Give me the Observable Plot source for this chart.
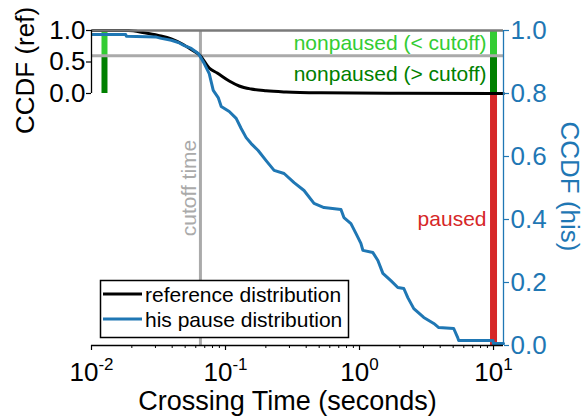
<!DOCTYPE html>
<html>
<head>
<meta charset="utf-8">
<script src="https://cdn.jsdelivr.net/npm/d3@7"></script>
<script src="https://cdn.jsdelivr.net/npm/@observablehq/plot@0.6"></script>
<style>
  html, body { margin: 0; padding: 0; background: #fff; }
  #chart svg { display: block; }
</style>
</head>
<body>
<div id="chart"></div>
<script>
const FONT = "'Liberation Sans', Arial, Helvetica, sans-serif";
const BLUE = "#1f77b4";
const RED = "#d62728";
const LIGHT_GREEN = "#33cc33";
const DARK_GREEN = "#008000";
const GRAY = "#aaaaaa";

// CCDF of his pause crossing times (seconds), right axis
const hisTime = [0.0102, 0.0180, 0.0182, 0.0305, 0.0332, 0.0394, 0.0445, 0.0493, 0.0555, 0.0626,
  0.0649, 0.0694, 0.0756, 0.0810, 0.0882, 0.0929, 0.1066, 0.1201, 0.1309, 0.1426,
  0.1554, 0.1752, 0.2009, 0.2305, 0.2736, 0.3248, 0.3855, 0.4575, 0.5430, 0.7271,
  0.7651, 0.8630, 0.9401, 1.024, 1.060, 1.258, 1.371, 1.494, 1.713, 1.931,
  2.141, 2.293, 2.541, 3.016, 3.581, 3.902, 5.045, 5.404, 5.497, 9.90, 10.0, 11.87];
const hisCcdf = [0.987, 0.987, 0.982, 0.979, 0.975, 0.969, 0.962, 0.952, 0.943, 0.927,
  0.917, 0.895, 0.863, 0.810, 0.787, 0.759, 0.743, 0.721, 0.689, 0.660,
  0.641, 0.619, 0.587, 0.556, 0.546, 0.517, 0.492, 0.451, 0.438, 0.432,
  0.406, 0.387, 0.356, 0.324, 0.302, 0.295, 0.270, 0.229, 0.206, 0.184,
  0.181, 0.152, 0.117, 0.089, 0.070, 0.057, 0.054, 0.025, 0.016, 0.016, 0.006, 0.006];

// CCDF of the reference distribution, left axis
const refTime = [0.0102, 0.0189, 0.0248, 0.0315, 0.0394, 0.0468, 0.0555, 0.0649, 0.0756, 0.0867,
  0.1066, 0.1265, 0.1554, 0.2009, 0.2831, 0.5160, 2.033, 10.0, 11.87];
const refCcdf = [1.0, 1.0, 0.963, 0.921, 0.868, 0.794, 0.698, 0.600, 0.405, 0.325,
  0.198, 0.119, 0.071, 0.043, 0.024, 0.011, 0.003, 0.0, 0.0];

const cutoffTime = 0.065;     // seconds
const refAtCutoff = 0.6;      // reference CCDF at the cutoff
const pausedFraction = 0.8;   // fraction of paused crossings
const barTimeLeft = 0.0125;
const barTimeRight = 10;
const xMax = 11.87;

const xTicks = [0.01, 0.1, 1, 10];
const xExponents = ["-2", "-1", "0", "1"];
const xMinorTicks = [2, 3, 4, 5, 6, 7, 8, 9].flatMap(m => [0.01, 0.1, 1].map(d => m * d));
const refTicks = [0, 0.5, 1];
const hisTicks = [0, 0.2, 0.4, 0.6, 0.8, 1];

// the reference axis occupies the nonpaused band of the his axis
const refToHis = r => pausedFraction + (1 - pausedFraction) * r;
const hisToRef = h => (h - pausedFraction) / (1 - pausedFraction);

const his = hisTime.map((t, i) => ({t, c: hisCcdf[i]}));
const ref = refTime.map((t, i) => ({t, c: refToHis(refCcdf[i])}));

const split = refToHis(refAtCutoff);
const barsLeft = [
  {y1: split, y2: 1, color: LIGHT_GREEN},
  {y1: pausedFraction, y2: split, color: DARK_GREEN}
];
const barsRight = [
  ...barsLeft,
  {y1: 0, y2: pausedFraction, color: RED}
];
const bandLabels = [
  {text: "nonpaused (< cutoff)", y: (split + 1) / 2, color: LIGHT_GREEN},
  {text: "nonpaused (> cutoff)", y: (pausedFraction + split) / 2, color: DARK_GREEN},
  {text: "paused", y: pausedFraction / 2, color: RED}
];

const tickLabels = xTicks.map((v, i) => ({v, e: xExponents[i]}));
const negLabels = tickLabels.filter(d => d.e.startsWith("-"));
const posLabels = tickLabels.filter(d => !d.e.startsWith("-"));
const baseSize = 26, expSize = 17;
function tickLabelMarks(data, expWidthEm) {
  const w10 = 1.112 * baseSize, we = expWidthEm * expSize;
  const off = w10 - (w10 + we) / 2;
  return [
    Plot.text(data, {x: "v", frameAnchor: "bottom", text: () => "10", textAnchor: "end",
      lineAnchor: "bottom", dx: off, dy: 35, fontSize: baseSize, fill: "black"}),
    Plot.text(data, {x: "v", frameAnchor: "bottom", text: "e", textAnchor: "start",
      lineAnchor: "bottom", dx: off, dy: 24, fontSize: expSize, fill: "black"})
  ];
}

const plot = Plot.plot({
  width: 587,
  height: 419,
  marginLeft: 91,
  marginRight: 84,
  marginTop: 30,
  marginBottom: 74,
  style: {fontFamily: FONT, background: "white", overflow: "visible"},
  x: {type: "log", domain: [0.01, xMax], axis: null},
  y: {domain: [0, 1], axis: null},
  color: {type: "identity"},
  marks: [
    // fraction bars
    Plot.ruleX(barsLeft, {x: () => barTimeLeft, y1: "y1", y2: "y2", stroke: "color", strokeWidth: 6}),
    Plot.ruleX(barsRight, {x: () => barTimeRight, y1: "y1", y2: "y2", stroke: "color", strokeWidth: 7}),
    // cutoff guides
    Plot.ruleX([cutoffTime], {stroke: GRAY, strokeWidth: 3}),
    Plot.ruleY([split], {stroke: GRAY, strokeWidth: 3}),
    // distributions (top border sits between them)
    Plot.line(ref, {x: "t", y: "c", curve: "monotone-x", stroke: "black", strokeWidth: 3}),
    Plot.ruleY([1], {stroke: "#7a7a7a", strokeWidth: 2.5}),
    Plot.line(his, {x: "t", y: "c", curve: "linear", stroke: BLUE, strokeWidth: 3}),
    // annotations
    Plot.text(bandLabels, {x: () => barTimeRight, y: "y", text: "text", fill: "color",
      textAnchor: "end", lineAnchor: "middle", dx: -7, fontSize: 21}),
    Plot.text(["cutoff time"], {x: () => cutoffTime, y: () => 0.5, text: d => d, rotate: -90,
      textAnchor: "middle", lineAnchor: "bottom", dx: -4, fill: GRAY, fontSize: 21}),
    // bottom axis
    Plot.ruleY([0], {stroke: "black", strokeWidth: 1.3}),
    Plot.axisX(xTicks, {tickSize: 5, fill: "none", stroke: "black", strokeWidth: 1.2, label: null}),
    Plot.axisX(xMinorTicks, {tickSize: 3, fill: "none", stroke: "black", strokeWidth: 1, label: null}),
    ...tickLabelMarks(negLabels, 0.889),
    ...tickLabelMarks(posLabels, 0.556),
    Plot.text(["Crossing Time (seconds)"], {frameAnchor: "bottom", text: d => d, lineAnchor: "bottom",
      dx: -10, dy: 64, fontSize: 27, fill: "black"}),
    // left (reference) axis
    Plot.ruleX([0.01], {y1: refToHis(0), y2: 1, stroke: "black", strokeWidth: 1.3}),
    Plot.axisY(refTicks.map(refToHis), {anchor: "left", tickSize: 5, tickPadding: 1, fontSize: 26,
      strokeWidth: 1.2, tickFormat: v => hisToRef(v).toFixed(1), label: null, color: "black"}),
    Plot.text(["CCDF (ref)"], {frameAnchor: "top-left", text: d => d, rotate: -90, textAnchor: "middle",
      lineAnchor: "bottom", dx: -58, dy: 40, fontSize: 26, fill: "black"}),
    // right (his) axis
    Plot.ruleX([xMax], {stroke: BLUE, strokeWidth: 1.3}),
    Plot.axisY(hisTicks, {anchor: "right", tickSize: 5, tickPadding: 2, fontSize: 26,
      strokeWidth: 1.2, tickFormat: v => v.toFixed(1), label: null, color: BLUE}),
    Plot.text(["CCDF (his)"], {frameAnchor: "top-right", text: d => d, rotate: 90, textAnchor: "middle",
      lineAnchor: "bottom", dx: 57, dy: 156, fontSize: 26, fill: BLUE})
  ]
});

document.getElementById("chart").append(plot);

// legend box in the lower left of the plot area
const legendItems = [
  {label: "reference distribution", color: "black"},
  {label: "his pause distribution", color: BLUE}
];
const svg = d3.select(plot);
const lg = svg.append("g")
  .attr("font-family", FONT)
  .attr("font-size", 21)
  .attr("text-anchor", "start");
lg.append("rect")
  .attr("x", 100.5).attr("y", 280.5).attr("width", 248).attr("height", 57)
  .attr("fill", "white").attr("stroke", "black").attr("stroke-width", 1.5);
legendItems.forEach((d, i) => {
  const y = 294 + 25 * i;
  lg.append("line").attr("x1", 103).attr("x2", 142).attr("y1", y).attr("y2", y)
    .attr("stroke", d.color).attr("stroke-width", 3);
  lg.append("text").attr("x", 145).attr("y", y + 7.5)
    .attr("fill", "black").attr("text-anchor", "start").text(d.label);
});
</script>
</body>
</html>
